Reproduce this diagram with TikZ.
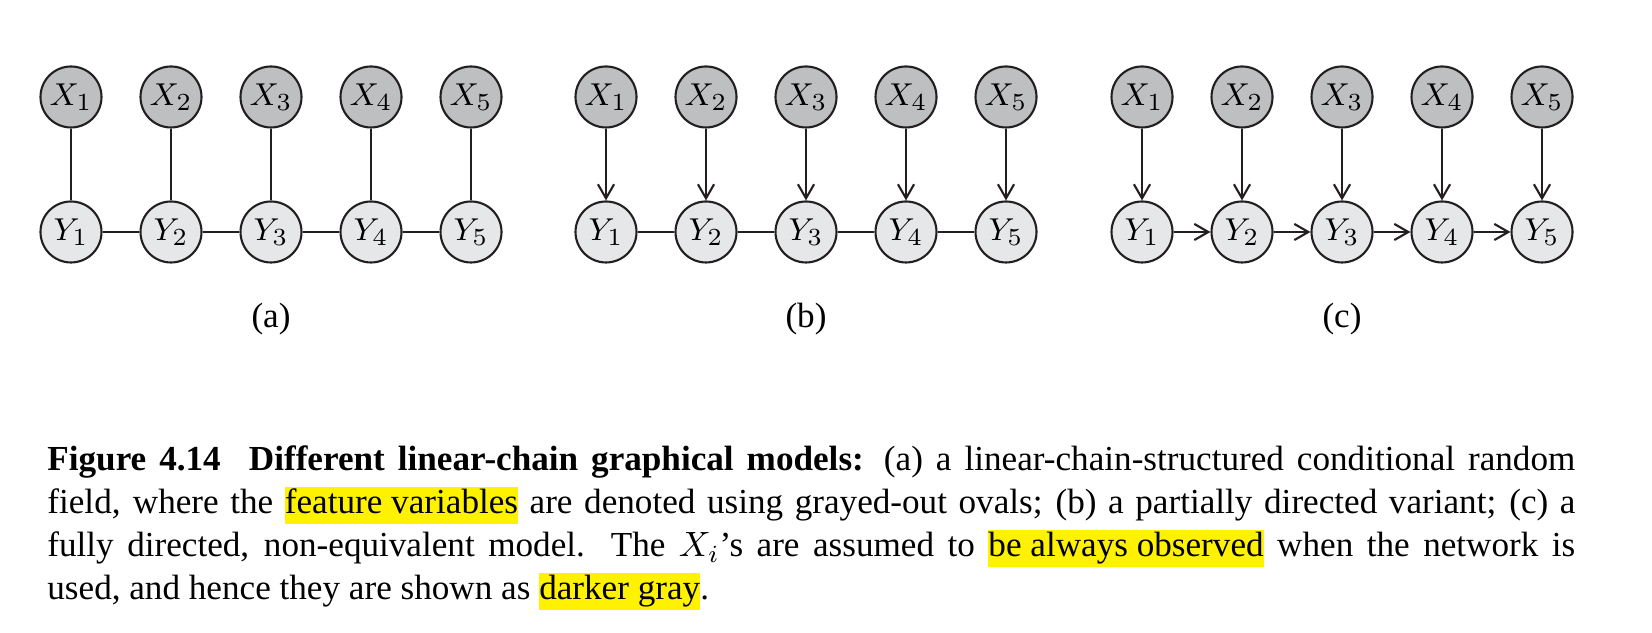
\documentclass[tikz,border=0pt]{standalone}
\usepackage{fontspec}
\setmainfont{Liberation Serif}
\usetikzlibrary{arrows.meta,positioning}
\definecolor{obsgray}{RGB}{190,191,193}
\definecolor{latgray}{RGB}{230,231,232}
\definecolor{inkline}{RGB}{35,31,32}
\definecolor{hilite}{RGB}{255,242,0}
\newcommand{\hl}[1]{{\setlength{\fboxsep}{0pt}\colorbox{hilite}{\rule[-2.9pt]{0pt}{10.4pt}#1}}}

\begin{document}
\begin{tikzpicture}
[Xn/.style={draw=inkline,circle,line width=0.6pt,fill=obsgray,inner sep=0pt,minimum size=0.61cm,font=\fontsize{9.5pt}{12pt}\selectfont},
Yn/.style={draw=inkline,circle,line width=0.6pt,fill=latgray,inner sep=0pt,minimum size=0.61cm,font=\fontsize{9.5pt}{12pt}\selectfont},
sublab/.style={font=\fontsize{10pt}{12pt}\selectfont,anchor=base},
dedge/.style={inkline,line width=0.6pt,>={Straight Barb[length=4pt,width=4.6pt]}},
uedge/.style={inkline,line width=0.6pt}]
\useasboundingbox (0,0) rectangle (16.52,6.33);
\def \ytop {5.36}
\def \ybot {4.01}
%%
%%%%%%%%%%%%%%%%%%
% (a) undirected chain
%%%%%%%%%%%%%%%%%%
\begin{scope}[xshift=0.71cm]
\node[Xn] (Xa1) at (0,\ytop) {$X_1$};
\node[Xn] (Xa2) at (1,\ytop) {$X_2$};
\node[Xn] (Xa3) at (2,\ytop) {$X_3$};
\node[Xn] (Xa4) at (3,\ytop) {$X_4$};
\node[Xn] (Xa5) at (4,\ytop) {$X_5$};
\node[Yn] (Ya1) at (0,\ybot) {$Y_1$};
\node[Yn] (Ya2) at (1,\ybot) {$Y_2$};
\node[Yn] (Ya3) at (2,\ybot) {$Y_3$};
\node[Yn] (Ya4) at (3,\ybot) {$Y_4$};
\node[Yn] (Ya5) at (4,\ybot) {$Y_5$};
\draw [uedge] (Xa1) -- (Ya1);
\draw [uedge] (Xa2) -- (Ya2);
\draw [uedge] (Xa3) -- (Ya3);
\draw [uedge] (Xa4) -- (Ya4);
\draw [uedge] (Xa5) -- (Ya5);
\draw [uedge] (Ya1) -- (Ya2);
\draw [uedge] (Ya2) -- (Ya3);
\draw [uedge] (Ya3) -- (Ya4);
\draw [uedge] (Ya4) -- (Ya5);
\node[sublab] (laba) at (2,3.05) {(a)};
\end{scope}
%%
%%%%%%%%%%%%%%%%%%
% (b) partially directed
%%%%%%%%%%%%%%%%%%
\begin{scope}[xshift=6.06cm]
\node[Xn] (Xb1) at (0,\ytop) {$X_1$};
\node[Xn] (Xb2) at (1,\ytop) {$X_2$};
\node[Xn] (Xb3) at (2,\ytop) {$X_3$};
\node[Xn] (Xb4) at (3,\ytop) {$X_4$};
\node[Xn] (Xb5) at (4,\ytop) {$X_5$};
\node[Yn] (Yb1) at (0,\ybot) {$Y_1$};
\node[Yn] (Yb2) at (1,\ybot) {$Y_2$};
\node[Yn] (Yb3) at (2,\ybot) {$Y_3$};
\node[Yn] (Yb4) at (3,\ybot) {$Y_4$};
\node[Yn] (Yb5) at (4,\ybot) {$Y_5$};
\draw [dedge,->] (Xb1) -- (Yb1);
\draw [dedge,->] (Xb2) -- (Yb2);
\draw [dedge,->] (Xb3) -- (Yb3);
\draw [dedge,->] (Xb4) -- (Yb4);
\draw [dedge,->] (Xb5) -- (Yb5);
\draw [uedge] (Yb1) -- (Yb2);
\draw [uedge] (Yb2) -- (Yb3);
\draw [uedge] (Yb3) -- (Yb4);
\draw [uedge] (Yb4) -- (Yb5);
\node[sublab] (labb) at (2,3.05) {(b)};
\end{scope}
%%
%%%%%%%%%%%%%%%%%%
% (c) fully directed
%%%%%%%%%%%%%%%%%%
\begin{scope}[xshift=11.42cm]
\node[Xn] (Xc1) at (0,\ytop) {$X_1$};
\node[Xn] (Xc2) at (1,\ytop) {$X_2$};
\node[Xn] (Xc3) at (2,\ytop) {$X_3$};
\node[Xn] (Xc4) at (3,\ytop) {$X_4$};
\node[Xn] (Xc5) at (4,\ytop) {$X_5$};
\node[Yn] (Yc1) at (0,\ybot) {$Y_1$};
\node[Yn] (Yc2) at (1,\ybot) {$Y_2$};
\node[Yn] (Yc3) at (2,\ybot) {$Y_3$};
\node[Yn] (Yc4) at (3,\ybot) {$Y_4$};
\node[Yn] (Yc5) at (4,\ybot) {$Y_5$};
\draw [dedge,->] (Xc1) -- (Yc1);
\draw [dedge,->] (Xc2) -- (Yc2);
\draw [dedge,->] (Xc3) -- (Yc3);
\draw [dedge,->] (Xc4) -- (Yc4);
\draw [dedge,->] (Xc5) -- (Yc5);
\draw [dedge,->] (Yc1) -- (Yc2);
\draw [dedge,->] (Yc2) -- (Yc3);
\draw [dedge,->] (Yc3) -- (Yc4);
\draw [dedge,->] (Yc4) -- (Yc5);
\node[sublab] (labc) at (2,3.05) {(c)};
\end{scope}
%%
%%%%%%%%%%%%%%%%%%
% Caption
%%%%%%%%%%%%%%%%%%
\node[anchor=base west,inner sep=0pt] (cap) at (0.467,1.623) {\parbox[t]{15.28cm}{\fontsize{10pt}{12.24pt}\selectfont\noindent
\textbf{Figure 4.14}\hspace{0.8em}\textbf{Different linear-chain graphical models:} (a) a linear-chain-structured conditional random\linebreak
field, where the \hl{feature variables} are denoted using grayed-out ovals; (b) a partially directed variant; (c) a\linebreak
fully directed, non-equivalent model. The $X_i$'s are assumed to \hl{be always observed} when the network is\linebreak
used, and hence they are shown as \hl{darker gray}.}};
%%
\end{tikzpicture}
\end{document}
